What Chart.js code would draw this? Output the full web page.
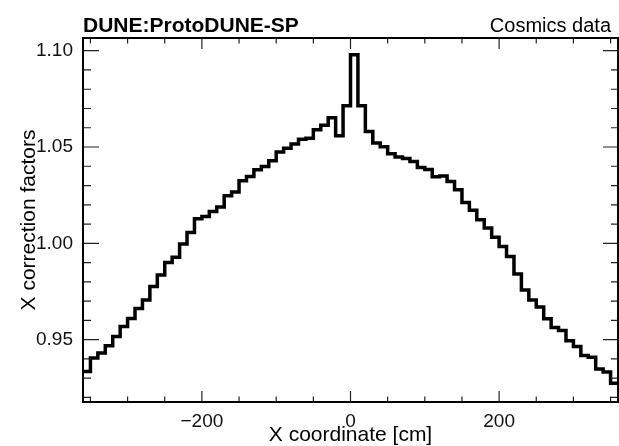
<!DOCTYPE html>
<html>
<head>
<meta charset="utf-8">
<script src="https://cdn.jsdelivr.net/npm/chart.js@4.4.1/dist/chart.umd.min.js"></script>
<style>
  html, body { margin: 0; padding: 0; background: #ffffff; }
  #wrap { width: 619px; height: 446px; }
</style>
</head>
<body>
<div id="wrap"><canvas id="c" width="619" height="446"></canvas></div>
<script>
// ---- data ----
const binEdges = [
  -360, -350, -340, -330, -320, -310, -300, -290, -280, -270,
  -260, -250, -240, -230, -220, -210, -200, -190, -180, -170,
  -160, -150, -140, -130, -120, -110, -100, -90, -80, -70,
  -60, -50, -40, -30, -20, -10, 0, 10, 20, 30,
  40, 50, 60, 70, 80, 90, 100, 110, 120, 130,
  140, 150, 160, 170, 180, 190, 200, 210, 220, 230,
  240, 250, 260, 270, 280, 290, 300, 310, 320, 330,
  340, 350, 360
];
const correctionFactors = [
  0.9334, 0.9405, 0.9430, 0.9468, 0.9516, 0.9568, 0.9609, 0.9662, 0.9706, 0.9776,
  0.9836, 0.9900, 0.9927, 0.9997, 1.0056, 1.0127, 1.0139, 1.0165, 1.0188, 1.0247,
  1.0266, 1.0325, 1.0347, 1.0382, 1.0399, 1.0429, 1.0474, 1.0494, 1.0515, 1.0540,
  1.0545, 1.0590, 1.0613, 1.0652, 1.0558, 1.0714, 1.0979, 1.0714, 1.0581, 1.0521,
  1.0501, 1.0465, 1.0448, 1.0440, 1.0425, 1.0393, 1.0383, 1.0345, 1.0350, 1.0321,
  1.0278, 1.0212, 1.0172, 1.0122, 1.0079, 1.0032, 0.9983, 0.9931, 0.9840, 0.9758,
  0.9706, 0.9669, 0.9608, 0.9563, 0.9547, 0.9494, 0.9464, 0.9417, 0.9409, 0.9347,
  0.9332, 0.9273
];
const xTickLabels = [-200, 0, 200];
const xMinorTicks = [-350, -300, -250, -150, -100, -50, 50, 100, 150, 250, 300, 350];
const yTickLabels = [0.95, 1.00, 1.05, 1.10];
const yMinorTicks = [0.92, 0.93, 0.94, 0.96, 0.97, 0.98, 0.99, 1.01, 1.02, 1.03, 1.04, 1.06, 1.07, 1.08, 1.09, 1.10];
const xRange = [-360, 360];
const yRange = [0.9176, 1.1066];
const titleLeft = 'DUNE:ProtoDUNE-SP';
const titleRight = 'Cosmics data';
const xTitle = 'X coordinate [cm]';
const yTitle = 'X correction factors';

// histogram outline: each bin starts at its low edge; last point closes the last bin
const points = correctionFactors.map((v, i) => ({ x: binEdges[i], y: v }));
points.push({ x: binEdges[binEdges.length - 1], y: correctionFactors[correctionFactors.length - 1] });

const FONT = "'Liberation Sans', Arial, Helvetica, sans-serif";

const framePlugin = {
  id: 'rootFrame',
  afterDatasetsDraw(chart) {
    const { ctx, chartArea: a, scales } = chart;
    const xs = scales.x, ys = scales.y;
    ctx.save();
    ctx.strokeStyle = '#222';
    ctx.lineWidth = 1.2;
    ctx.beginPath();
    // y ticks (left & right, inside)
    yTickLabels.forEach(v => {
      const p = ys.getPixelForValue(v);
      ctx.moveTo(a.left, p); ctx.lineTo(a.left + 16, p);
      ctx.moveTo(a.right, p); ctx.lineTo(a.right - 15, p);
    });
    yMinorTicks.forEach(v => {
      const p = ys.getPixelForValue(v);
      ctx.moveTo(a.left, p); ctx.lineTo(a.left + 8, p);
      ctx.moveTo(a.right, p); ctx.lineTo(a.right - 7, p);
    });
    // x ticks (bottom & top, inside)
    xTickLabels.forEach(v => {
      const p = xs.getPixelForValue(v);
      ctx.moveTo(p, a.bottom); ctx.lineTo(p, a.bottom - 11);
      ctx.moveTo(p, a.top); ctx.lineTo(p, a.top + 11);
    });
    xMinorTicks.forEach(v => {
      const p = xs.getPixelForValue(v);
      ctx.moveTo(p, a.bottom); ctx.lineTo(p, a.bottom - 5.5);
      ctx.moveTo(p, a.top); ctx.lineTo(p, a.top + 5.5);
    });
    ctx.stroke();
    // frame
    ctx.strokeStyle = '#000';
    ctx.lineWidth = 2;
    ctx.strokeRect(a.left, a.top, a.right - a.left, a.bottom - a.top);
    // header texts
    ctx.fillStyle = '#000';
    ctx.textBaseline = 'alphabetic';
    ctx.font = 'bold 21px ' + FONT;
    ctx.textAlign = 'left';
    ctx.fillText(titleLeft, a.left, 31.5);
    ctx.font = '20px ' + FONT;
    ctx.textAlign = 'right';
    ctx.fillText(titleRight, 611, 31.5);
    ctx.restore();
  }
};

new Chart(document.getElementById('c'), {
  type: 'line',
  data: {
    datasets: [{
      data: points,
      stepped: 'before',
      borderColor: '#000',
      borderWidth: 3.5,
      borderJoinStyle: 'miter',
      borderCapStyle: 'butt',
      pointRadius: 0,
      fill: false,
      tension: 0
    }]
  },
  options: {
    responsive: false,
    devicePixelRatio: 1,
    animation: false,
    layout: { padding: { top: 38, right: 1, left: 0, bottom: 0 } },
    plugins: { legend: { display: false }, tooltip: { enabled: false }, title: { display: false } },
    scales: {
      x: {
        type: 'linear',
        min: xRange[0], max: xRange[1],
        grid: { display: false, drawTicks: false },
        border: { display: false },
        afterBuildTicks: s => { s.ticks = xTickLabels.map(v => ({ value: v })); },
        afterFit: s => { s.height = 44; },
        ticks: {
          padding: 8,
          color: '#111',
          font: { family: FONT, size: 19 },
          maxRotation: 0,
          callback: v => String(v).replace('-', '\u2212')
        },
        title: {
          display: true, text: xTitle, color: '#000',
          font: { family: FONT, size: 21, lineHeight: 1 },
          padding: { top: 0, bottom: 0 }
        }
      },
      y: {
        type: 'linear',
        min: yRange[0], max: yRange[1],
        grid: { display: false, drawTicks: false },
        border: { display: false },
        afterBuildTicks: s => { s.ticks = yTickLabels.map(v => ({ value: v })); },
        afterFit: s => { s.width = 83; },
        ticks: {
          padding: 10,
          color: '#111',
          font: { family: FONT, size: 19 },
          callback: v => Number(v).toFixed(2)
        },
        title: {
          display: true, text: yTitle, color: '#000',
          font: { family: FONT, size: 21, lineHeight: 1 },
          padding: { top: 19, bottom: 0 }
        }
      }
    }
  },
  plugins: [framePlugin]
});
</script>
</body>
</html>
